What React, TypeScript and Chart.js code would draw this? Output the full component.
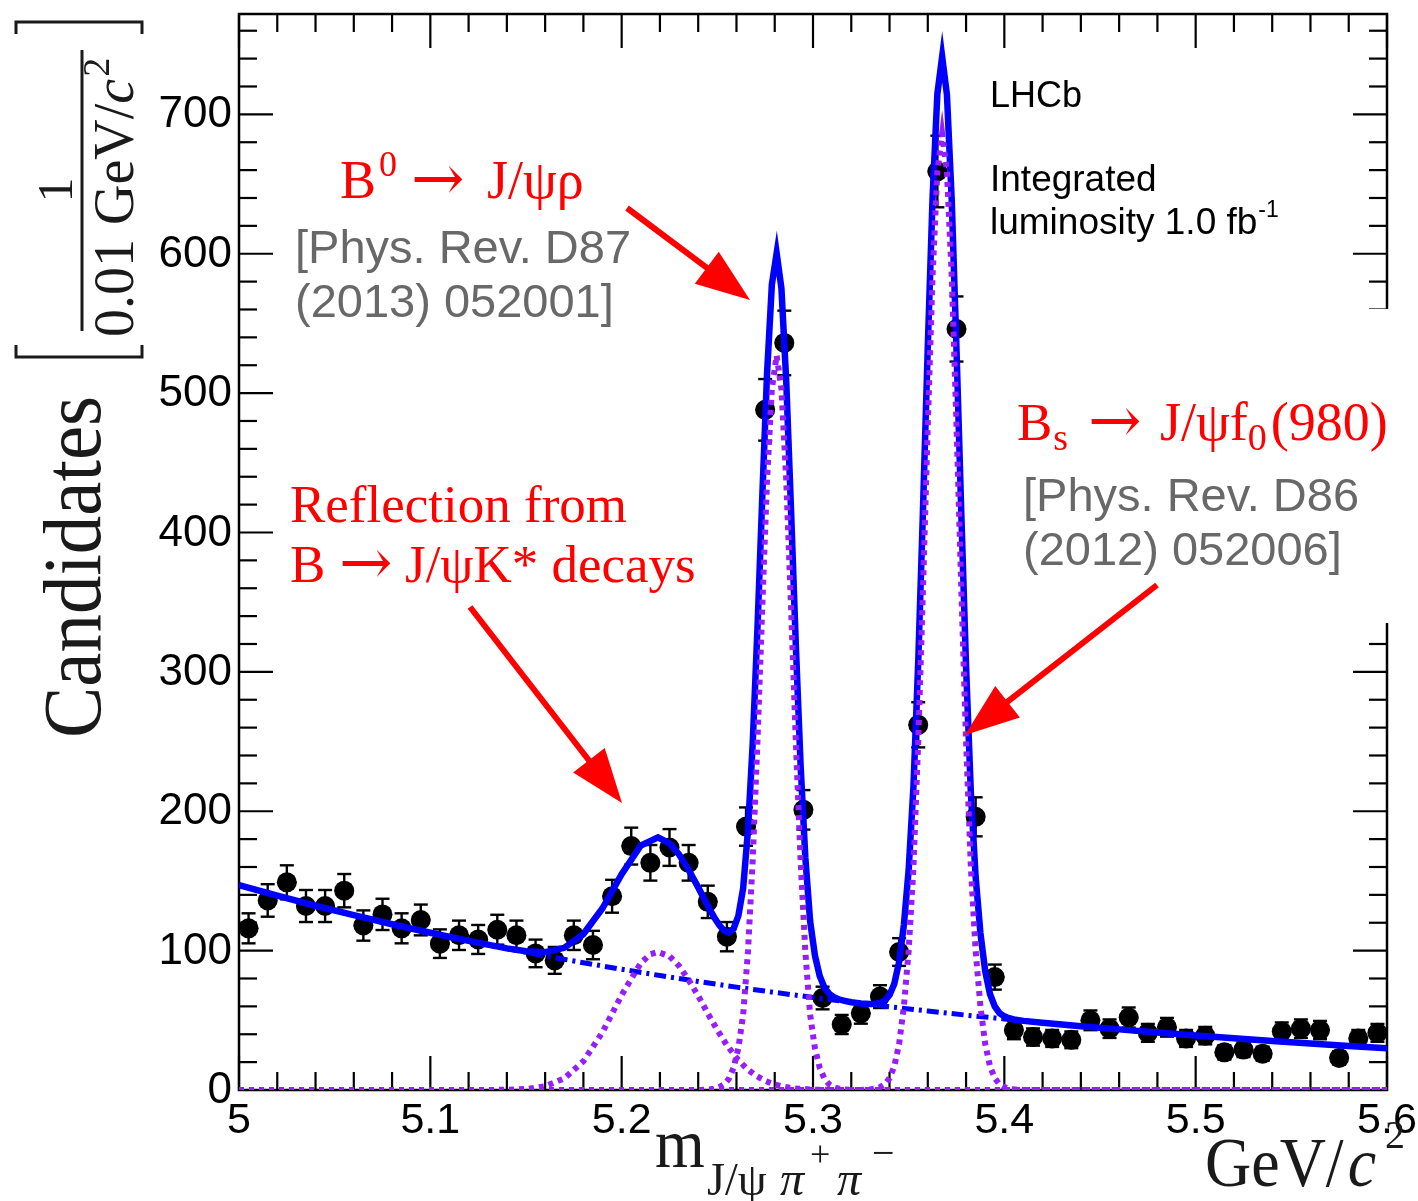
import { useEffect, useRef } from 'react';
import { Chart, registerables } from 'chart.js';

Chart.register(...registerables);

// ---- Data: J/psi pi+ pi- invariant mass spectrum, 10 MeV bins ----
const binCenters = [
  5.005, 5.015, 5.025, 5.035, 5.045, 5.055, 5.065, 5.075, 5.085, 5.095,
  5.105, 5.115, 5.125, 5.135, 5.145, 5.155, 5.165, 5.175, 5.185, 5.195,
  5.205, 5.215, 5.225, 5.235, 5.245, 5.255, 5.265, 5.275, 5.285, 5.295,
  5.305, 5.315, 5.325, 5.335, 5.345, 5.355, 5.365, 5.375, 5.385, 5.395,
  5.405, 5.415, 5.425, 5.435, 5.445, 5.455, 5.465, 5.475, 5.485, 5.495,
  5.505, 5.515, 5.525, 5.535, 5.545, 5.555, 5.565, 5.575, 5.585, 5.595,
];
const candidates = [
  116, 136, 149, 132, 132, 143, 118, 126, 116, 122,
  105, 111, 108, 115, 111, 98, 93, 111, 104, 139,
  175, 163, 174, 163, 135, 110, 189, 488, 536, 201,
  66, 47, 55, 67, 99, 262, 659, 546, 196, 81,
  43, 38, 37, 36, 50, 44, 52, 41, 45, 37,
  39, 27, 29, 26, 42, 44, 43, 23, 37, 41,
];

// ---- Fit: total model ----
const totalMass = [
  5.0, 5.02, 5.04, 5.06, 5.08, 5.1, 5.12, 5.14, 5.15, 5.16, 5.17, 5.18, 5.19, 5.2, 5.21, 5.219, 5.225, 5.23, 5.235, 5.24,
  5.246, 5.2485, 5.251, 5.2535, 5.256, 5.2585, 5.261, 5.2635, 5.266, 5.2685, 5.271, 5.2735, 5.276, 5.2785, 5.281,
  5.2835, 5.286, 5.2885, 5.291, 5.2935, 5.296, 5.2985, 5.301, 5.3035, 5.306, 5.3085, 5.311, 5.3135, 5.316,
  5.32, 5.325,
  5.33, 5.3325, 5.335, 5.3375, 5.34, 5.3425, 5.345, 5.3475, 5.35, 5.3525, 5.355, 5.3575, 5.36, 5.3625, 5.365, 5.3675,
  5.37, 5.3725, 5.375, 5.3775, 5.38, 5.3825, 5.385, 5.3875, 5.39, 5.3925, 5.395, 5.3975, 5.4, 5.4025, 5.405,
  5.41, 5.42, 5.44, 5.46, 5.48, 5.5, 5.52, 5.54, 5.56, 5.58, 5.6,
];
const totalFit = [
  147, 139.4, 132.2, 125.4, 118.9, 112.8, 107.0, 101.6, 99.5, 98.9, 102.0, 111.9, 130.4, 154.8, 175.4, 181.3, 177, 169, 158, 145.4,
  129.6, 123.6, 118.3, 114.3, 112.8, 115.7, 125.0, 144.8, 186.1, 249.0, 332.2, 425.7, 514.6, 577.9, 600.3,
  575.1, 508.9, 417.0, 320.1, 233.4, 166.7, 121.1, 96.6, 81.8, 73.4, 69.0, 66.5, 65.1, 64.1,
  63.0, 62.1,
  61.7, 61.9, 62.5, 64.1, 68.2, 76.3, 91.9, 118.5, 158.1, 217.7, 307.3, 416.9, 533.6, 640.2, 714.8, 741.4,
  714.1, 638.7, 531.3, 414.0, 303.6, 213.3, 152.9, 112.6, 85.2, 68.9, 60.0, 55.2, 52.8, 51.5, 50.6,
  49.6, 48.3, 45.8, 43.5, 41.2, 39.1, 37.1, 35.2, 33.4, 31.6, 30.0,
];

// ---- Fit: combinatorial background ----
const bkgMass = [
  5.0, 5.02, 5.04, 5.06, 5.08, 5.1, 5.12, 5.14, 5.16, 5.18, 5.2, 5.22, 5.24, 5.26, 5.28, 5.3,
  5.32, 5.34, 5.36, 5.38, 5.4, 5.42, 5.44, 5.46, 5.48, 5.5, 5.52, 5.54, 5.56, 5.58, 5.6,
];
const bkgFit = [
  147, 139.4, 132.2, 125.4, 118.9, 112.8, 107.0, 101.4, 96.2, 91.3, 86.6, 82.1, 77.9, 73.8, 70.0, 66.4,
  63.0, 59.7, 56.7, 53.7, 51.0, 48.3, 45.8, 43.5, 41.2, 39.1, 37.1, 35.2, 33.4, 31.6, 30.0,
];

// ---- Fit: reflection from B -> J/psi K* ----
const reflMass = [
  5.0, 5.13, 5.14, 5.15, 5.16, 5.17, 5.18, 5.19, 5.2, 5.21, 5.215, 5.219, 5.225, 5.23, 5.235, 5.24,
  5.245, 5.25, 5.255, 5.26, 5.265, 5.27, 5.275, 5.28, 5.285, 5.29, 5.3, 5.31, 5.6,
];
const reflFit = [
  0, 0, 0.2, 0.7, 2.7, 8.3, 20.6, 41.5, 68.2, 91.1, 97.4, 99, 96, 89, 79, 67.5,
  55, 43, 32.2, 23, 15.8, 10.4, 6.5, 3.9, 2.3, 1.2, 0.3, 0, 0,
];

// ---- Fit: B0 -> J/psi rho signal ----
const b0Mass = [
  5.0, 5.241,
  5.246, 5.2485, 5.251, 5.2535, 5.256, 5.2585, 5.261, 5.2635, 5.266, 5.2685, 5.271, 5.2735, 5.276, 5.2785, 5.281,
  5.2835, 5.286, 5.2885, 5.291, 5.2935, 5.296, 5.2985, 5.301, 5.3035, 5.306, 5.3085, 5.311, 5.3135, 5.316,
  5.321, 5.6,
];
const b0Fit = [
  0, 0,
  0.4, 1, 2, 4, 8, 16, 30, 54, 99, 165, 251, 347, 438, 503, 527,
  503, 438, 347, 251, 165, 99, 54, 30, 16, 8, 4, 2, 1, 0.4,
  0, 0,
];

// ---- Fit: Bs -> J/psi f0(980) signal ----
const bsMass = [
  5.0, 5.325,
  5.33, 5.3325, 5.335, 5.3375, 5.34, 5.3425, 5.345, 5.3475, 5.35, 5.3525, 5.355, 5.3575, 5.36, 5.3625, 5.365, 5.3675,
  5.37, 5.3725, 5.375, 5.3775, 5.38, 5.3825, 5.385, 5.3875, 5.39, 5.3925, 5.395, 5.3975, 5.4, 5.4025, 5.405,
  5.41, 5.6,
];
const bsFit = [
  0, 0,
  0.4, 1, 2, 4, 8.5, 17, 33, 60, 100, 160, 250, 360, 477, 584, 659, 686,
  659, 584, 477, 360, 250, 160, 100, 60, 33, 17, 8.5, 4, 2, 1, 0.4,
  0, 0,
];

// ---- Axes ----
const yTickValues = [0, 100, 200, 300, 400, 500, 600, 700];
const xTickValues = [5.0, 5.1, 5.2, 5.3, 5.4, 5.5, 5.6];
const xTickLabels = ['5', '5.1', '5.2', '5.3', '5.4', '5.5', '5.6'];

const SERIF = '"Liberation Serif", "Times New Roman", serif';
const SANS = '"Liberation Sans", Arial, Helvetica, sans-serif';
const ARROW = '"DejaVu Serif", "Liberation Serif", serif';
const RED = '#ff0000';
const GRAY = '#686868';
const BLUE = '#0000ff';
const VIOLET = 'rgb(150, 30, 250)';

const pairs = (xs: number[], ys: number[]) => xs.map((x, i) => ({ x, y: ys[i] }));

type Run = { t: string; font: string; at?: number; dx?: number; dy?: number };

function drawRuns(ctx: CanvasRenderingContext2D, x: number, y: number, runs: Run[]) {
  ctx.textAlign = 'left';
  ctx.textBaseline = 'alphabetic';
  let cx = x;
  for (const r of runs) {
    ctx.font = r.font;
    if (r.at !== undefined) cx = r.at;
    cx += r.dx ?? 0;
    ctx.fillText(r.t, cx, y + (r.dy ?? 0));
    cx += ctx.measureText(r.t).width;
  }
}

function seg(ctx: CanvasRenderingContext2D, x0: number, y0: number, x1: number, y1: number) {
  ctx.beginPath();
  ctx.moveTo(x0, y0);
  ctx.lineTo(x1, y1);
  ctx.stroke();
}

function arrow(ctx: CanvasRenderingContext2D, x0: number, y0: number, x1: number, y1: number) {
  const a = Math.atan2(y1 - y0, x1 - x0);
  const L = 54;
  const W = 20;
  const c = Math.cos(a);
  const s = Math.sin(a);
  const bx = x1 - L * c;
  const by = y1 - L * s;
  ctx.strokeStyle = RED;
  ctx.fillStyle = RED;
  ctx.lineWidth = 6;
  ctx.lineCap = 'butt';
  seg(ctx, x0, y0, bx + 4 * c, by + 4 * s);
  ctx.beginPath();
  ctx.moveTo(x1, y1);
  ctx.lineTo(bx - W * s, by + W * c);
  ctx.lineTo(bx + W * s, by - W * c);
  ctx.closePath();
  ctx.fill();
}

const rootStyle = {
  id: 'rootStyle',
  beforeDatasetsDraw(chart: any) {
    const { ctx, chartArea: a, scales } = chart;
    const xs = scales.x;
    const ys = scales.y;
    ctx.save();
    ctx.strokeStyle = '#000';
    ctx.lineWidth = 2.5;
    ctx.strokeRect(a.left, a.top, a.right - a.left, a.bottom - a.top);
    ctx.lineWidth = 2.2;
    // y ticks (inside frame, both sides)
    for (let i = 0; i * 20 <= ys.max; i++) {
      const py = ys.getPixelForValue(i * 20);
      const len = i % 5 === 0 ? 34 : 18;
      seg(ctx, a.left, py, a.left + len, py);
      seg(ctx, a.right, py, a.right - len, py);
    }
    // x ticks (inside frame, top and bottom)
    for (let i = 0; i <= 30; i++) {
      const px = xs.getPixelForValue(5 + i * 0.02);
      const len = i % 5 === 0 ? 34 : 18;
      seg(ctx, px, a.bottom, px, a.bottom - len);
      seg(ctx, px, a.top, px, a.top + len);
    }
    // Poisson error bars on the data
    ctx.lineWidth = 2.4;
    binCenters.forEach((m, i) => {
      const n = candidates[i];
      const e = Math.sqrt(n);
      const px = xs.getPixelForValue(m);
      const yt = ys.getPixelForValue(n + e);
      const yb = ys.getPixelForValue(n - e);
      const yc = ys.getPixelForValue(n);
      seg(ctx, px, yt, px, yb);
      seg(ctx, px - 7, yt, px + 7, yt);
      seg(ctx, px - 7, yb, px + 7, yb);
      seg(ctx, xs.getPixelForValue(m - 0.005), yc, xs.getPixelForValue(m + 0.005), yc);
    });
    ctx.restore();
  },
  afterDraw(chart: any) {
    const { ctx, chartArea: a, scales } = chart;
    const xs = scales.x;
    const ys = scales.y;
    ctx.save();

    // tick labels
    ctx.fillStyle = '#000';
    ctx.font = `44px ${SANS}`;
    ctx.textAlign = 'right';
    ctx.textBaseline = 'middle';
    yTickValues.forEach((v) => ctx.fillText(String(v), a.left - 7, ys.getPixelForValue(v) + 1));
    ctx.font = `43px ${SANS}`;
    ctx.textAlign = 'center';
    ctx.textBaseline = 'alphabetic';
    xTickValues.forEach((v, i) => ctx.fillText(xTickLabels[i], xs.getPixelForValue(v), a.bottom + 43));

    // y-axis title
    ctx.fillStyle = '#1a1a1a';
    ctx.save();
    ctx.translate(100, 567);
    ctx.rotate(-Math.PI / 2);
    ctx.scale(1, 1.08);
    ctx.font = `77px ${SERIF}`;
    ctx.textAlign = 'center';
    ctx.fillText('Candidates', 0, 0);
    ctx.restore();

    ctx.save();
    ctx.translate(0, 190);
    ctx.rotate(-Math.PI / 2);
    ctx.strokeStyle = '#1a1a1a';
    ctx.lineWidth = 3;
    ctx.beginPath();
    ctx.moveTo(-155, 16); ctx.lineTo(-167, 16); ctx.lineTo(-167, 142); ctx.lineTo(-155, 142);
    ctx.stroke();
    ctx.beginPath();
    ctx.moveTo(156, 16); ctx.lineTo(168, 16); ctx.lineTo(168, 142); ctx.lineTo(156, 142);
    ctx.stroke();
    seg(ctx, -141, 82, 140, 82);
    ctx.font = `50px ${SERIF}`;
    ctx.textAlign = 'center';
    ctx.fillText('1', 0, 72);
    drawRuns(ctx, -147, 133, [
      { t: '0.01 GeV/', font: `56px ${SERIF}` },
      { t: 'c', font: `italic 56px ${SERIF}` },
      { t: '2', font: `38px ${SERIF}`, dx: 2, dy: -24 },
    ]);
    ctx.restore();

    // x-axis title
    ctx.save();
    ctx.translate(655, 1167);
    ctx.scale(1, 1.08);
    ctx.font = `64px ${SERIF}`;
    ctx.textAlign = 'left';
    ctx.fillText('m', 0, 0);
    ctx.restore();
    drawRuns(ctx, 0, 1195, [
      { t: 'J/ψ', font: `46px ${SERIF}`, at: 707 },
      { t: 'π', font: `italic 48px ${SERIF}`, at: 780 },
      { t: '+', font: `36px ${SERIF}`, at: 810, dy: -29 },
      { t: 'π', font: `italic 48px ${SERIF}`, at: 837 },
      { t: '−', font: `40px ${SERIF}`, at: 872, dy: -29 },
    ]);
    ctx.save();
    ctx.translate(1205, 1186);
    ctx.scale(1, 1.1);
    drawRuns(ctx, 0, 0, [
      { t: 'GeV/', font: `64px ${SERIF}` },
      { t: 'c', font: `italic 64px ${SERIF}`, dx: 4 },
    ]);
    ctx.restore();
    ctx.font = `40px ${SERIF}`;
    ctx.textAlign = 'left';
    ctx.fillText('2', 1385, 1148);

    // experiment label
    ctx.fillStyle = '#000';
    drawRuns(ctx, 990, 107, [{ t: 'LHCb', font: `36px ${SANS}` }]);
    drawRuns(ctx, 990, 191, [{ t: 'Integrated', font: `37px ${SANS}` }]);
    drawRuns(ctx, 990, 234, [
      { t: 'luminosity 1.0 fb', font: `37px ${SANS}` },
      { t: '-1', font: `23px ${SANS}`, dx: 1, dy: -17 },
    ]);

    // annotations
    ctx.fillStyle = '#ffffff';
    ctx.fillRect(1003, 309, 415, 314);

    ctx.fillStyle = RED;
    drawRuns(ctx, 340, 198, [
      { t: 'B', font: `54px ${SERIF}`, at: 340 },
      { t: '0', font: `36px ${SERIF}`, dx: 3, dy: -22 },
      { t: '→', font: `64px ${ARROW}`, at: 411, dy: 2 },
      { t: 'J/ψρ', font: `54px ${SERIF}`, at: 487 },
    ]);
    drawRuns(ctx, 290, 522, [{ t: 'Reflection from', font: `53px ${SERIF}` }]);
    drawRuns(ctx, 290, 582, [
      { t: 'B', font: `53px ${SERIF}`, at: 290 },
      { t: '→', font: `64px ${ARROW}`, at: 339, dy: 2 },
      { t: 'J/ψK* decays', font: `53px ${SERIF}`, at: 405 },
    ]);
    drawRuns(ctx, 1017, 440, [
      { t: 'B', font: `53px ${SERIF}`, at: 1017 },
      { t: 's', font: `38px ${SERIF}`, dx: 1, dy: 10 },
      { t: '→', font: `64px ${ARROW}`, at: 1088, dy: 2 },
      { t: 'J/ψf', font: `54px ${SERIF}`, at: 1160 },
      { t: '0', font: `38px ${SERIF}`, dy: 10 },
      { t: '(980)', font: `54px ${SERIF}`, dx: 4 },
    ]);

    ctx.fillStyle = GRAY;
    drawRuns(ctx, 295, 263, [{ t: '[Phys. Rev. D87', font: `47px ${SANS}` }]);
    drawRuns(ctx, 295, 317, [{ t: '(2013) 052001]', font: `47px ${SANS}` }]);
    drawRuns(ctx, 1023, 511, [{ t: '[Phys. Rev. D86', font: `47px ${SANS}` }]);
    drawRuns(ctx, 1023, 565, [{ t: '(2012) 052006]', font: `47px ${SANS}` }]);

    arrow(ctx, 627, 208, 750, 300);
    arrow(ctx, 470, 607, 622, 803);
    arrow(ctx, 1157, 585, 965, 735);

    ctx.restore();
  },
};

export default function App() {
  const canvasRef = useRef<HTMLCanvasElement | null>(null);

  useEffect(() => {
    const canvas = canvasRef.current;
    if (!canvas) return;
    const curve = (data: { x: number; y: number }[], color: string, width: number, dash: number[], order: number) => ({
      type: 'line' as const,
      data,
      borderColor: color,
      borderWidth: width,
      borderDash: dash,
      pointRadius: 0,
      tension: 0,
      fill: false,
      showLine: true,
      order,
    });
    const chart = new Chart(canvas, {
      type: 'scatter',
      data: {
        datasets: [
          {
            type: 'scatter',
            data: pairs(binCenters, candidates),
            pointStyle: 'circle',
            pointRadius: 10,
            backgroundColor: '#000',
            borderColor: '#000',
            borderWidth: 0,
            order: 6,
          } as any,
          curve(pairs(totalMass, totalFit), BLUE, 6.5, [], 5),
          curve(pairs(bkgMass, bkgFit), BLUE, 5, [12, 5, 3, 5], 4),
          curve(pairs(reflMass, reflFit), VIOLET, 6, [5, 5], 3),
          curve(pairs(b0Mass, b0Fit), VIOLET, 6, [5, 5], 2),
          curve(pairs(bsMass, bsFit), VIOLET, 6, [5, 5], 1),
        ],
      },
      options: {
        animation: false,
        responsive: false,
        maintainAspectRatio: false,
        devicePixelRatio: 1,
        events: [],
        layout: { padding: { left: 239, top: 14, right: 31, bottom: 111 } },
        plugins: { legend: { display: false }, tooltip: { enabled: false } },
        scales: {
          x: { type: 'linear', min: 5.0, max: 5.6, display: false },
          y: { type: 'linear', min: 0, max: 772, display: false },
        },
      },
      plugins: [rootStyle],
    });
    return () => chart.destroy();
  }, []);

  return (
    <div style={{ position: 'fixed', left: 0, top: 0, width: 1418, height: 1201, background: '#fff' }}>
      <canvas ref={canvasRef} width={1418} height={1201} style={{ display: 'block' }} />
    </div>
  );
}
